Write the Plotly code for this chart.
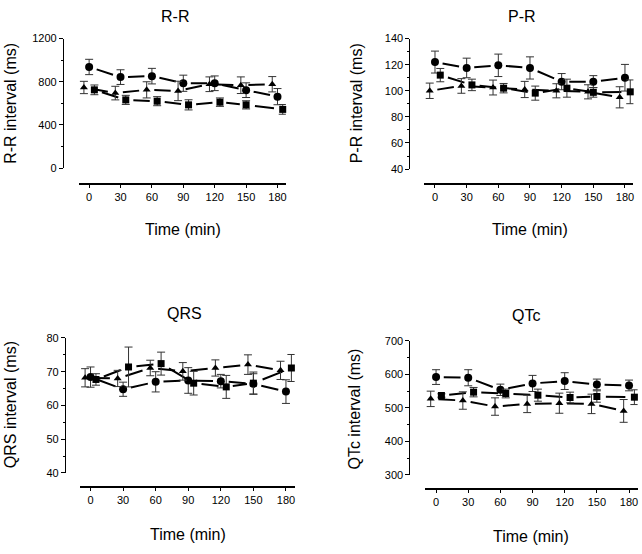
import math
import plotly.graph_objects as go

# ---------------- data ----------------
time_circle = [0, 30, 60, 90, 120, 150, 180]
time_triangle = [-5, 25, 55, 85, 115, 145, 175]
time_square = [5, 35, 65, 95, 125, 150, 185]
time_ticks = [0, 30, 60, 90, 120, 150, 180]

rr_circle = [937, 843, 852, 786, 786, 722, 662]
rr_circle_err = [71, 68, 72, 75, 68, 68, 75]
rr_triangle = [747, 695, 725, 715, 777, 768, 777]
rr_triangle_err = [57, 63, 75, 90, 68, 77, 71]
rr_square = [725, 632, 620, 586, 611, 586, 544]
rr_square_err = [45, 42, 42, 47, 39, 38, 45]

pr_circle = [122.0, 117.5, 119.5, 117.5, 107.0, 107.0, 110.0]
pr_circle_err = [8.4, 7.5, 8.6, 8.5, 6.2, 4.6, 10.2]
pr_triangle = [100.0, 103.7, 102.5, 101.0, 100.0, 99.2, 95.0]
pr_triangle_err = [5.9, 5.6, 5.7, 6.2, 5.4, 5.4, 8.1]
pr_square = [112.0, 104.5, 102.0, 98.2, 102.0, 98.8, 99.2]
pr_square_err = [5.1, 4.4, 3.6, 5.4, 6.9, 3.7, 9.1]

qrs_circle = [68.4, 64.8, 67.0, 67.4, 67.2, 66.4, 64.1]
qrs_circle_err = [3.0, 2.1, 3.0, 3.8, 2.0, 3.0, 3.5]
qrs_triangle = [68.2, 68.0, 71.1, 70.1, 71.1, 72.1, 70.4]
qrs_triangle_err = [2.7, 2.4, 2.3, 2.6, 2.4, 2.9, 2.7]
qrs_square = [67.7, 71.4, 72.4, 66.6, 65.5, 66.6, 71.1]
qrs_square_err = [1.7, 5.9, 3.4, 3.5, 3.4, 3.3, 4.0]

qtc_circle = [592, 590, 554, 573, 580, 570, 567]
qtc_circle_err = [22, 24, 17, 24, 25, 16, 16]
qtc_triangle = [527, 522, 504, 512, 514, 512, 491]
qtc_triangle_err = [23, 26, 26, 26, 30, 29, 34]
qtc_square = [537, 547, 543, 538, 531, 534, 532]
qtc_square_err = [5, 14, 13, 18, 16, 17, 22]

panel_titles = ["R-R", "P-R", "QRS", "QTc"]
y_titles = ["R-R interval (ms)", "P-R interval (ms)", "QRS interval (ms)", "QTc interval (ms)"]
x_title = "Time (min)"

# ---------------- layout geometry (window pixels) ----------------
W, H = 642, 554
FONT = "Liberation Sans, Arial, sans-serif"

panels = [
    dict(title=panel_titles[0], ytitle=y_titles[0],
         series=[(time_circle, rr_circle, rr_circle_err),
                 (time_triangle, rr_triangle, rr_triangle_err),
                 (time_square, rr_square, rr_square_err)],
         xdom=(78.8, 286.3), ydom=(33.3, 165.7), yr=(0, 1200), dt=400, mdt=200,
         yline=63, xline=182, tpos=(175, 11), ylab=(11, 99), xlab=(183, 228)),
    dict(title=panel_titles[1], ytitle=y_titles[1],
         series=[(time_circle, pr_circle, pr_circle_err),
                 (time_triangle, pr_triangle, pr_triangle_err),
                 (time_square, pr_square, pr_square_err)],
         xdom=(425.1, 634.4), ydom=(33.3, 166.7), yr=(40, 140), dt=20, mdt=10,
         yline=410, xline=182, tpos=(523, 11), ylab=(357, 99), xlab=(531, 228)),
    dict(title=panel_titles[2], ytitle=y_titles[2],
         series=[(time_circle, qrs_circle, qrs_circle_err),
                 (time_triangle, qrs_triangle, qrs_triangle_err),
                 (time_square, qrs_square, qrs_square_err)],
         xdom=(79.8, 295.1), ydom=(339.3, 477.3), yr=(40, 80), dt=10, mdt=5,
         yline=65, xline=492, tpos=(185, 314), ylab=(10, 407), xlab=(188, 540)),
    dict(title=panel_titles[3], ytitle=y_titles[3],
         series=[(time_circle, qtc_circle, qtc_circle_err),
                 (time_triangle, qtc_triangle, qtc_triangle_err),
                 (time_square, qtc_square, qtc_square_err)],
         xdom=(426.0, 638.6), ydom=(342.3, 479.3), yr=(300, 700), dt=100, mdt=50,
         yline=410, xline=494, tpos=(527, 316), ylab=(355, 412), xlab=(532, 542)),
]
XR = (-10, 188)
symbols = [("circle", 8), ("triangle-up", 7), ("square", 7)]


def px(x):
    return x / W


def py(y):
    return 1 - y / H


fig = go.Figure()
layout = dict(
    width=W, height=H, margin=dict(l=0, r=0, t=0, b=0),
    paper_bgcolor="white", plot_bgcolor="white", showlegend=False,
    font=dict(family=FONT, size=11, color="black"),
    annotations=[],
)

for i, p in enumerate(panels):
    k = "" if i == 0 else str(i + 1)
    xa, ya = "x" + k, "y" + k
    sx = (p["xdom"][1] - p["xdom"][0]) / (XR[1] - XR[0])
    sy = (p["ydom"][1] - p["ydom"][0]) / (p["yr"][1] - p["yr"][0])

    # dashed connecting lines: one dash per segment between consecutive points
    for xs, ys, _ in p["series"]:
        for j in range(len(xs) - 1):
            L = math.hypot((xs[j + 1] - xs[j]) * sx, (ys[j + 1] - ys[j]) * sy)
            g = 0.24 * L
            d = 0.52 * L
            fig.add_trace(go.Scatter(
                x=[xs[j], xs[j + 1]], y=[ys[j], ys[j + 1]], mode="lines",
                line=dict(color="black", width=2,
                          dash=f"0px,{g:.1f}px,{d:.1f}px,{L + 10:.1f}px"),
                xaxis=xa, yaxis=ya, hoverinfo="skip", showlegend=False))

    for (xs, ys, es), (sym, sz) in zip(p["series"], symbols):
        fig.add_trace(go.Scatter(
            x=xs, y=ys, mode="markers",
            marker=dict(symbol=sym, size=sz, color="black", line=dict(width=0)),
            error_y=dict(type="data", array=es, visible=True, color="#333333",
                         thickness=1, width=4),
            xaxis=xa, yaxis=ya, cliponaxis=False, showlegend=False))

    layout["xaxis" + k] = dict(
        domain=[px(p["xdom"][0]), px(p["xdom"][1])], range=list(XR),
        anchor="free", position=py(p["xline"]),
        showline=True, linecolor="black", linewidth=1.5,
        tickmode="array", tickvals=time_ticks, ticktext=[str(t) for t in time_ticks],
        ticks="outside", ticklen=3, tickwidth=1, tickcolor="black",
        showgrid=False, zeroline=False, tickfont=dict(size=11, family=FONT))
    layout["yaxis" + k] = dict(
        domain=[py(p["ydom"][1]), py(p["ydom"][0])], range=list(p["yr"]),
        anchor="free", position=px(p["yline"]),
        showline=True, linecolor="black", linewidth=1,
        tick0=p["yr"][0], dtick=p["dt"],
        ticks="outside", ticklen=4, tickwidth=1, tickcolor="black",
        minor=dict(dtick=p["mdt"], ticks="outside", ticklen=2, tickcolor="black", showgrid=False),
        showgrid=False, zeroline=False, tickfont=dict(size=11, family=FONT))

    layout["annotations"] += [
        dict(text=p["title"], x=px(p["tpos"][0]), y=py(p["tpos"][1]), xref="paper", yref="paper",
             showarrow=False, xanchor="center", yanchor="middle", font=dict(size=16, family=FONT)),
        dict(text=p["ytitle"], x=px(p["ylab"][0]), y=py(p["ylab"][1]), xref="paper", yref="paper",
             showarrow=False, xanchor="center", yanchor="middle", textangle=-90,
             font=dict(size=16, family=FONT)),
        dict(text=x_title, x=px(p["xlab"][0]), y=py(p["xlab"][1]), xref="paper", yref="paper",
             showarrow=False, xanchor="center", yanchor="middle", font=dict(size=16, family=FONT)),
    ]

fig.update_layout(**layout)
fig.write_html("out.html", config={"displayModeBar": False},
               post_script="document.body.style.margin='0';")
